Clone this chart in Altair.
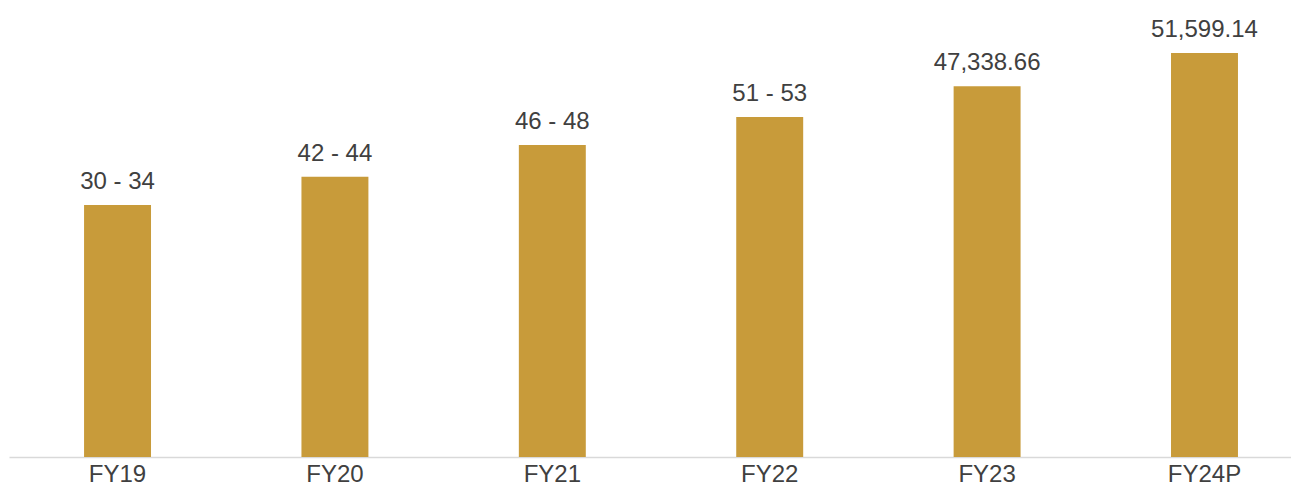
import altair as alt
import pandas as pd

years = ["FY19", "FY20", "FY21", "FY22", "FY23", "FY24P"]
values = [32190, 35800, 39850, 43430, 47338.66, 51599.14]
labels = ["30 - 34", "42 - 44", "46 - 48", "51 - 53", "47,338.66", "51,599.14"]

df = pd.DataFrame({"year": years, "value": values, "label": labels})

x = alt.X("year:N", sort=years,
          scale=alt.Scale(paddingInner=0.692, paddingOuter=0.2946, align=0.586),
          axis=alt.Axis(title=None, labelAngle=0, labelFontSize=24, labelFont="Liberation Sans",
                        labelColor="#404040", ticks=False, labelPadding=5,
                        domainColor="#d9d9d9", domainWidth=1.5))
y = alt.Y("value:Q", scale=alt.Scale(domain=[0, 57346], nice=False), axis=None)

bars = alt.Chart(df).mark_bar(color="#C89B3A").encode(x=x, y=y)
text = alt.Chart(df).mark_text(font="Liberation Sans", fontSize=24, color="#404040",
                               baseline="alphabetic", dy=-16).encode(x=x, y=y, text="label:N")

chart = (bars + text).properties(
    width=1282, height=449,
    autosize=alt.AutoSizeParams(type="none"),
    padding={"left": 1, "top": 0, "right": 0, "bottom": 30},
).configure_view(stroke=None)

chart.save("out.html", embed_options={"renderer": "svg", "actions": False})
